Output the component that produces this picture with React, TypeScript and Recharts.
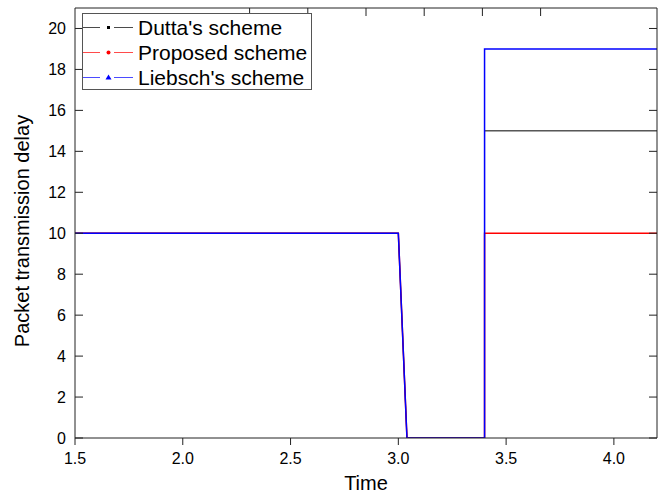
import { LineChart, Line, XAxis, YAxis, Legend } from "recharts";

const timePoints = [1.5, 3.0, 3.04, 3.4, 3.4, 4.2];
const duttaDelay = [10, 10, 0, 0, 15, 15];
const proposedDelay = [10, 10, 0, 0, 10, 10];
const liebschDelay = [10, 10, 0, 0, 19, 19];

const xTicks = [1.5, 2.0, 2.5, 3.0, 3.5, 4.0];
const yTicks = [0, 2, 4, 6, 8, 10, 12, 14, 16, 18, 20];

const seriesNames = ["Dutta's scheme", "Proposed scheme", "Liebsch's scheme"];
const seriesColors = ["#000000", "#ff0000", "#0000ff"];

const chartData = timePoints.map((t, i) => ({
  time: t,
  dutta: duttaDelay[i],
  proposed: proposedDelay[i],
  liebsch: liebschDelay[i],
}));

const FONT = '"Liberation Sans", Arial, sans-serif';
const AXIS = "#222";

const Marker = ({ idx, color }: { idx: number; color: string }) => {
  if (idx === 0) return <rect x={24} y={11} width={3} height={3} fill={color} />;
  if (idx === 1) return <circle cx={25.5} cy={12.5} r={2} fill={color} />;
  return <polygon points="25.5,9.5 28.5,14.5 22.5,14.5" fill={color} />;
};

const LegendBox = () => (
  <div
    style={{
      boxSizing: "border-box",
      width: 230,
      height: 77,
      border: "1px solid #555",
      background: "#fff",
      paddingTop: 1,
      fontFamily: FONT,
    }}
  >
    {seriesNames.map((name, i) => (
      <div key={name} style={{ display: "flex", alignItems: "center", height: 25 }}>
        <svg width={50} height={25} style={{ display: "block" }}>
          <line x1={0} y1={12.5} x2={17} y2={12.5} stroke={seriesColors[i]} strokeWidth={1} opacity={0.7} />
          <line x1={31} y1={12.5} x2={50} y2={12.5} stroke={seriesColors[i]} strokeWidth={1} opacity={0.7} />
          <Marker idx={i} color={seriesColors[i]} />
        </svg>
        <span style={{ fontSize: 21, marginLeft: 5, color: "#000", lineHeight: "25px" }}>{name}</span>
      </div>
    ))}
  </div>
);

export default function App() {
  return (
    <div style={{ position: "absolute", left: 0, top: 0, background: "#fff" }}>
      <LineChart
        width={666}
        height={495}
        data={chartData}
        margin={{ top: 7, right: 8, bottom: 8, left: 15 }}
        style={{ fontFamily: FONT }}
      >
        <XAxis
          dataKey="time"
          type="number"
          domain={[1.5, 4.2]}
          ticks={xTicks}
          allowDataOverflow
          height={49}
          tickSize={7}
          tickMargin={8}
          tickFormatter={(v: number) => v.toFixed(1)}
          tick={{ fontSize: 16, fill: "#000" }}
          stroke={AXIS}
          label={{
            content: (props: any) => {
              const vb = props.viewBox || { x: 75, width: 582 };
              return (
                <text x={vb.x + vb.width / 2} y={490} textAnchor="middle" fontSize={20} fill="#000" fontFamily={FONT}>
                  Time
                </text>
              );
            },
          }}
        />
        <XAxis
          xAxisId="top"
          orientation="top"
          type="number"
          domain={[1.5, 4.2]}
          ticks={xTicks}
          allowDataOverflow
          height={1}
          tickSize={-8}
          tickFormatter={() => ""}
          stroke={AXIS}
        />
        <YAxis
          type="number"
          domain={[0, 21]}
          ticks={yTicks}
          allowDataOverflow
          width={60}
          tickSize={-8}
          tickMargin={17}
          tick={{ fontSize: 16, fill: "#000" }}
          stroke={AXIS}
          label={{
            content: () => (
              <text
                x={29}
                y={231}
                transform="rotate(-90 29 231)"
                textAnchor="middle"
                fontSize={20}
                fill="#000"
                fontFamily={FONT}
              >
                Packet transmission delay
              </text>
            ),
          }}
        />
        <YAxis
          yAxisId="right"
          orientation="right"
          type="number"
          domain={[0, 21]}
          ticks={yTicks}
          allowDataOverflow
          width={1}
          tickSize={-8}
          tickFormatter={() => ""}
          stroke={AXIS}
        />
        <Legend
          layout="horizontal"
          verticalAlign="middle"
          align="center"
          content={() => <LegendBox />}
          wrapperStyle={{ position: "absolute", left: 82, top: 13, width: 230, height: 77 }}
        />
        <Line
          type="linear"
          dataKey="dutta"
          stroke={seriesColors[0]}
          strokeWidth={1}
          dot={false}
          isAnimationActive={false}
        />
        <Line
          type="linear"
          dataKey="proposed"
          stroke={seriesColors[1]}
          strokeWidth={1.5}
          dot={false}
          isAnimationActive={false}
        />
        <Line
          type="linear"
          dataKey="liebsch"
          stroke={seriesColors[2]}
          strokeWidth={1.5}
          dot={false}
          isAnimationActive={false}
        />
      </LineChart>
    </div>
  );
}
